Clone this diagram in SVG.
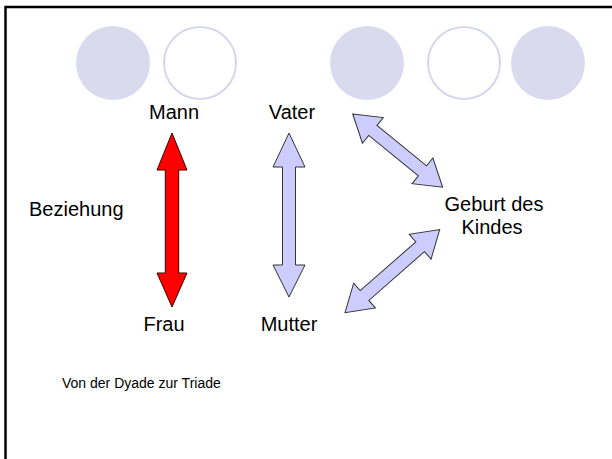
<svg xmlns="http://www.w3.org/2000/svg" width="612" height="459" viewBox="0 0 612 459">
  <style>
    .lbl { font-family: "Liberation Sans", Arial, sans-serif; font-size: 20px; fill: #000; }
    .small { font-family: "Liberation Sans", Arial, sans-serif; font-size: 14px; fill: #000; }
    .dot { fill: #DADAEE; }
    .ring { fill: #FFFFFF; stroke: #D6D6EC; stroke-width: 2; }
    .arr { fill: #CCCCFF; stroke: #333333; stroke-width: 1; stroke-linejoin: miter; }
    .arr-red { fill: #FF0000; stroke: #3A0000; stroke-width: 1; }
  </style>
  <defs>
    <!-- double-headed block arrows along the x axis -->
    <polygon id="dbl116" points="0,0 26,-16.5 26,-6.5 90,-6.5 90,-16.5 116,0 90,16.5 90,6.5 26,6.5 26,16.5"/>
    <polygon id="dbl126" points="0,0 26,-16.5 26,-6.5 100,-6.5 100,-16.5 126,0 100,16.5 100,6.5 26,6.5 26,16.5"/>
  </defs>

  <rect x="0" y="0" width="612" height="459" fill="#FFFFFF"/>
  <!-- slide frame -->
  <rect x="5.5" y="7" width="640" height="480" fill="none" stroke="#000000" stroke-width="2.5"/>

  <!-- decorative circles -->
  <g id="circles">
    <circle class="dot" cx="113" cy="63" r="37"/>
    <circle class="ring" cx="200" cy="63" r="36"/>
    <circle class="dot" cx="367" cy="63" r="37"/>
    <circle class="ring" cx="464" cy="63" r="36"/>
    <circle class="dot" cx="548" cy="63" r="37"/>
  </g>

  <g id="connectors">
    <!-- Mann / Frau -->
    <polygon class="arr-red" points="172,133 187,170 178.7,170 178.7,273 187,273 172,307 157,273 165.3,273 165.3,170 157,170"/>
    <!-- Vater / Mutter -->
    <polygon class="arr" points="289,133 305,167 295.5,167 295.5,265 305,265 289,297 273,265 282.5,265 282.5,167 273,167"/>
    <!-- Vater / Geburt des Kindes -->
    <use href="#dbl116" class="arr" transform="translate(352.7,114) rotate(39.16)"/>
    <!-- Mutter / Geburt des Kindes -->
    <use href="#dbl126" class="arr" transform="translate(345,312.7) rotate(-41.28)"/>
  </g>

  <g id="mann"><text class="lbl" x="174" y="119" text-anchor="middle">Mann</text></g>
  <g id="vater"><text class="lbl" x="292" y="119" text-anchor="middle">Vater</text></g>
  <g id="frau"><text class="lbl" x="164" y="331" text-anchor="middle">Frau</text></g>
  <g id="mutter"><text class="lbl" x="289" y="331" text-anchor="middle">Mutter</text></g>
  <g id="beziehung"><text class="lbl" x="29" y="216">Beziehung</text></g>
  <g id="geburt">
    <text class="lbl" x="494" y="211" text-anchor="middle">Geburt des</text>
    <text class="lbl" x="492" y="234" text-anchor="middle">Kindes</text>
  </g>
  <g id="caption"><text class="small" x="62" y="388">Von der Dyade zur Triade</text></g>
</svg>
